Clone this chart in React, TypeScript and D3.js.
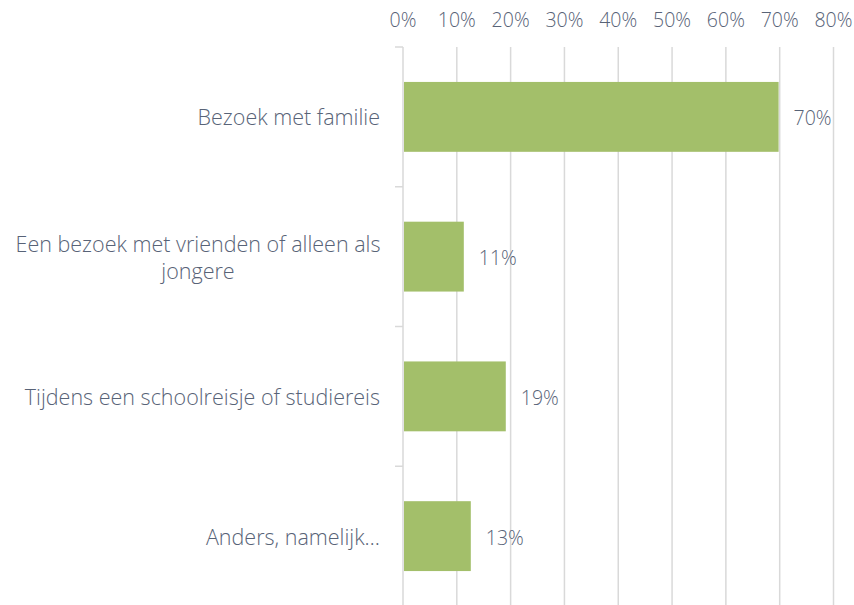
import React from "react";
import * as d3 from "d3";

const categories = [
  ["Bezoek met familie"],
  ["Een bezoek met vrienden of alleen als", "jongere"],
  ["Tijdens een schoolreisje of studiereis"],
  ["Anders, namelijk…"],
];
const values = [69.8, 11.3, 19.1, 12.6];
const valueLabels = ["70%", "11%", "19%", "13%"];
const ticks = [0, 10, 20, 30, 40, 50, 60, 70, 80];

const W = 854;
const H = 605;
const left = 403;
const right = 833.5;
const top = 47;
const bottom = 606;
const FONT = "'Open Sans', sans-serif";
const FS = 21.5;
const FSN = 19.5;
const TEXT = "#586377";
const GRID = "#d9d9d9";
const BAR = "#a3bf6a";

export default function App() {
  const x = d3.scaleLinear().domain([0, 80]).range([left, right]);
  const y = d3
    .scaleBand<number>()
    .domain(values.map((_, i) => i))
    .range([top, bottom])
    .paddingInner(0.5)
    .paddingOuter(0.25);
  const step = y.step();
  return (
    <svg
      width={W}
      height={H}
      style={{ position: "absolute", left: 0, top: 0, background: "#fff" }}
      fontFamily={FONT}
    >
      {ticks.map((t) => (
        <g key={t}>
          <line x1={x(t)} x2={x(t)} y1={top} y2={bottom} stroke={GRID} strokeWidth={1.5} />
          <text
            x={x(t)}
            y={19}
            textAnchor="middle"
            dominantBaseline="central"
            fontSize={FSN}
            fontWeight={300}
            fill={TEXT}
          >
            {t}%
          </text>
        </g>
      ))}
      {values.map((_, i) => (
        <line
          key={"tk" + i}
          x1={left - 8}
          x2={left}
          y1={top + i * step}
          y2={top + i * step}
          stroke={GRID}
          strokeWidth={1.5}
        />
      ))}
      {values.map((v, i) => (
        <rect
          key={"b" + i}
          x={x(0) + 1}
          y={y(i)}
          width={x(v) - x(0) - 1}
          height={y.bandwidth()}
          fill={BAR}
        />
      ))}
      {values.map((v, i) => (
        <text
          key={"v" + i}
          x={x(v) + 15}
          y={(y(i) as number) + y.bandwidth() / 2 + 1}
          dominantBaseline="central"
          fontSize={FSN}
          fontWeight={300}
          fill={TEXT}
        >
          {valueLabels[i]}
        </text>
      ))}
      {categories.map((lines, i) => {
        const cy = (y(i) as number) + y.bandwidth() / 2;
        const lh = 27;
        const multi = lines.length > 1;
        return (
          <text
            key={"c" + i}
            fontSize={FS}
            fontWeight={300}
            fill={TEXT}
            textAnchor={multi ? "middle" : "end"}
          >
            {lines.map((l, j) => (
              <tspan
                key={j}
                x={multi ? 198 : 380}
                y={cy - ((lines.length - 1) * lh) / 2 + j * lh}
                dominantBaseline="central"
              >
                {l}
              </tspan>
            ))}
          </text>
        );
      })}
    </svg>
  );
}
